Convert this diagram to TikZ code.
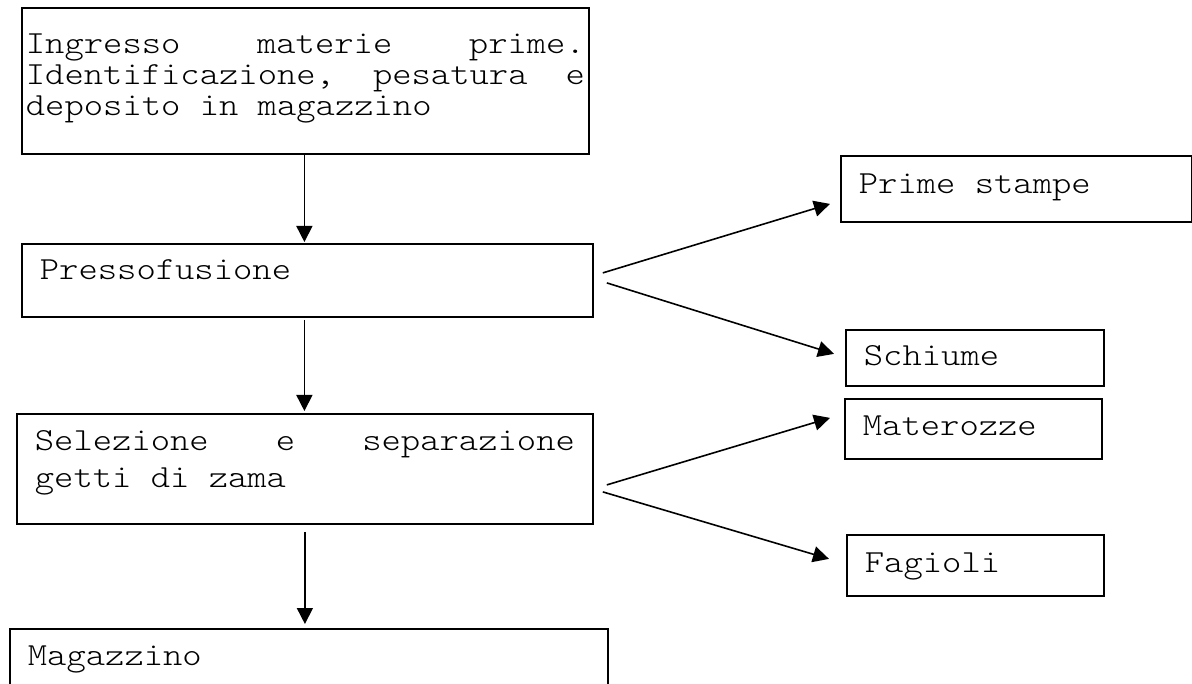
\documentclass[tikz,border=0pt]{standalone}
\usepackage{fontspec}
\newfontfamily\boxfont{lmmonolt10-regular.otf}[FakeStretch=1.143]
\newcommand\stagefont{\boxfont\fontsize{32.2pt}{31pt}\selectfont}
\newcommand\wordgap{\hspace{0.6em}}
\usetikzlibrary{arrows.meta,calc}

\begin{document}
\begin{tikzpicture}[
    x=1pt, y=-1pt,
    stage/.style={rectangle, draw, line width=1.8pt, anchor=north west, inner xsep=18pt, inner ysep=0pt, align=left, font=\stagefont},
    arrow/.style={-{Triangle[length=16pt,width=16pt]}, line width=1.6pt}
]
\useasboundingbox (0,0) rectangle (1192,684);

% Main process chain
\node[stage, inner xsep=4pt, text width=559pt, text height=46pt, text depth=100pt] (ingresso) at (21,7)
    {\makebox[\linewidth][l]{Ingresso\hfill materie\hfill prime.}\\
     \makebox[\linewidth][l]{Identificazione,\hfill pesatura\hfill e}\\
     deposito\wordgap in\wordgap magazzino};
\node[stage, text width=535pt, text height=36pt, text depth=37pt] (presso) at (21,243) {Pressofusione};
\node[stage, text width=540pt, text height=37pt, text depth=73pt] (selezione) at (16,413)
    {\makebox[\linewidth][l]{Selezione\hfill e\hfill separazione}\\[6pt]
     getti\wordgap di\wordgap zama};
\node[stage, text width=562pt, text height=37pt, text depth=35pt] (magazzino) at (9,628) {Magazzino};

% Waste and by-products
\node[stage, text width=315pt, text height=38pt, text depth=28pt] (prime) at (840,155) {Prime\wordgap stampe};
\node[stage, text width=222pt, text height=36pt, text depth=20pt] (schiume) at (845,329) {Schiume};
\node[stage, text width=221pt, text height=37pt, text depth=23pt] (materozze) at (844,398) {Materozze};
\node[stage, text width=221pt, text height=38pt, text depth=23pt] (fagioli) at (846,534) {Fagioli};

% Arrows
\draw[arrow] ($(ingresso.south)+(-1,0)$) -- ($(presso.north -| ingresso.south)+(-1,-1)$);
\draw[arrow] ($(presso.south -| ingresso.south)+(-1,2)$) -- ($(selezione.north -| ingresso.south)+(-1,-2)$);
\draw[arrow] ($(selezione.south)+(0,7)$) -- ($(selezione.south |- magazzino.north)+(0,-4)$);

\draw[arrow] ($(presso.east)+(9,-7.5)$) -- ($(prime.west)+(-10,15)$);
\draw[arrow] ($(presso.east)+(13,2.5)$) -- ($(schiume.west)+(-11,-4)$);
\draw[arrow] ($(selezione.east)+(13,16)$) -- ($(materozze.west)+(-14,-11)$);
\draw[arrow] ($(selezione.east)+(9,23)$) -- ($(fagioli.west)+(-17,-6.5)$);

\end{tikzpicture}
\end{document}
